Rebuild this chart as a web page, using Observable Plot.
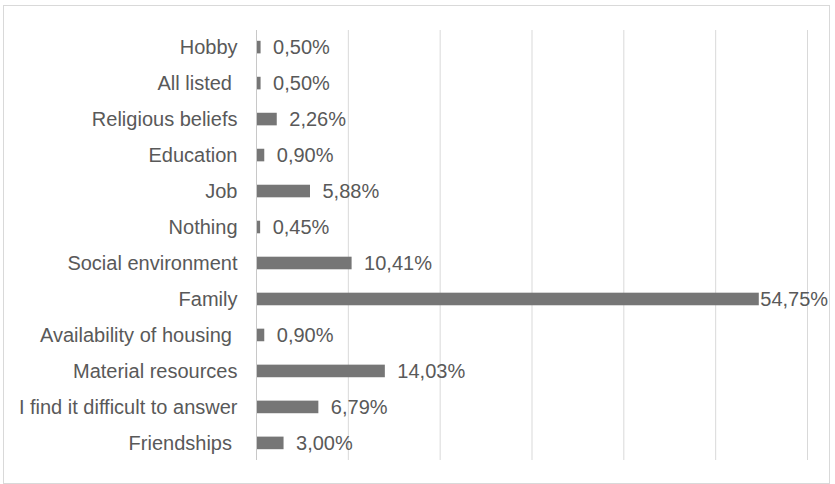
<!DOCTYPE html>
<html>
<head>
<meta charset="utf-8">
<script src="https://cdn.jsdelivr.net/npm/d3@7"></script>
<script src="https://cdn.jsdelivr.net/npm/@observablehq/plot@0.6"></script>
<style>
  html, body { margin: 0; padding: 0; background: #fff; }
  #wrap { position: relative; width: 835px; height: 484px; }
  #border { position: absolute; left: 3px; top: 5px; width: 825px; height: 477px; border: 1px solid #d9d9d9; box-sizing: content-box; pointer-events: none; }
  #chart { position: absolute; left: 0; top: 0; }
</style>
</head>
<body>
<div id="wrap"><div id="border"></div><div id="chart"></div></div>
<script>
const categories = [
  "Hobby",
  "All listed\u00a0",
  "Religious beliefs",
  "Education",
  "Job",
  "Nothing",
  "Social environment",
  "Family",
  "Availability of housing\u00a0",
  "Material resources",
  "I find it difficult to answer",
  "Friendships\u00a0"
];
const values = [0.50, 0.50, 2.26, 0.90, 5.88, 0.45, 10.41, 54.75, 0.90, 14.03, 6.79, 3.00];
const gridTicks = [10, 20, 30, 40, 50, 60];

const data = categories.map((c, i) => ({category: c, value: values[i]}));
const fmt = v => v.toFixed(2).replace(".", ",") + "%";
const maxVal = d3.max(values);

const chart = Plot.plot({
  width: 835,
  height: 484,
  marginLeft: 256,
  marginRight: 28,
  marginTop: 30,
  marginBottom: 24,
  style: {fontFamily: "'Liberation Sans', Arial, sans-serif", fontSize: "20px", color: "#595959", background: "transparent"},
  x: {domain: [0, 60], axis: null},
  y: {domain: categories, paddingInner: 0.65, paddingOuter: 0.3, round: false, label: null},
  marks: [
    Plot.ruleX(gridTicks, {stroke: "#d9d9d9", strokeWidth: 1}),
    Plot.barX(data, {x: "value", y: "category", fill: "#767676"}),
    Plot.ruleX([0], {stroke: "#c8c8c8", strokeWidth: 1}),
    Plot.axisY({tickSize: 0, tickPadding: 19, label: null, fontSize: 20, fill: "#595959"}),
    Plot.text(data.filter(d => d.value < maxVal), {x: "value", y: "category", text: d => fmt(d.value), textAnchor: "start", dx: 12, fill: "#595959", fontSize: 20}),
    Plot.text(data.filter(d => d.value === maxVal), {x: "value", y: "category", text: d => fmt(d.value), textAnchor: "start", dx: 1, fill: "#595959", fontSize: 20})
  ]
});
document.getElementById("chart").appendChild(chart);
</script>
</body>
</html>
